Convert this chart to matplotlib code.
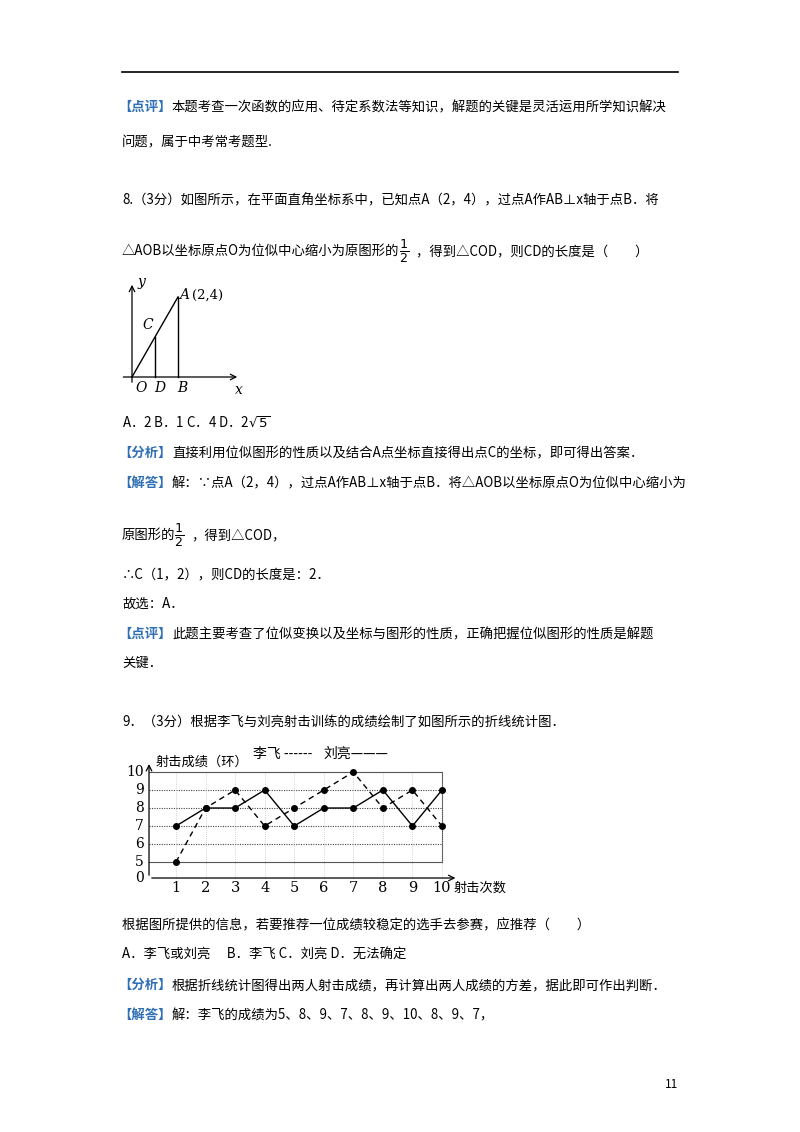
import matplotlib
matplotlib.use("Agg")
import matplotlib.pyplot as plt

plt.rcParams['font.family'] = ['Noto Sans CJK SC', 'DejaVu Sans']

# data
shots = [1, 2, 3, 4, 5, 6, 7, 8, 9, 10]
lifei = [5, 8, 9, 7, 8, 9, 10, 8, 9, 7]
liuliang = [7, 8, 8, 9, 7, 8, 8, 9, 7, 9]
y_ticks = [5, 6, 7, 8, 9, 10]

W, H = 800, 1132
BLUE = "#2f6fb5"
FS = 9.6

fig = plt.figure(figsize=(8, 11.32), dpi=100)

def T(x, y, s, color="black", fs=FS, **kw):
    fig.text(x / W, 1 - y / H, s, color=color, fontsize=fs, va="center", ha="left", **kw)

def tagline(y, tag, rest):
    T(118, y, tag, color=BLUE, fontweight="bold")
    T(172, y, rest)

def pax(l, t, r, b):
    return fig.add_axes([l / W, 1 - b / H, (r - l) / W, (b - t) / H])

# header rule
line_ax = pax(0, 0, W, H)
line_ax.set_xlim(0, W); line_ax.set_ylim(H, 0); line_ax.axis("off")
line_ax.plot([122, 678], [72, 72], color="black", lw=1.2)

tagline(107, "【点评】", "本题考查一次函数的应用、待定系数法等知识，解题的关键是灵活运用所学知识解决")
T(122, 142, "问题，属于中考常考题型.")
T(122, 200, "8.（3分）如图所示，在平面直角坐标系中，已知点A（2，4），过点A作AB⊥x轴于点B．将")
T(122, 251, "△AOB以坐标原点O为位似中心缩小为原图形的")
T(399, 251, r"$\frac{1}{2}$", fs=13)
T(416, 251, "，得到△COD，则CD的长度是（　　）")
T(122, 423, "A．2 B．1 C．4 D．2$\\sqrt{5}$")
tagline(453, "【分析】", "直接利用位似图形的性质以及结合A点坐标直接得出点C的坐标，即可得出答案．")
tagline(483, "【解答】", "解：∵点A（2，4），过点A作AB⊥x轴于点B．将△AOB以坐标原点O为位似中心缩小为")
T(122, 535, "原图形的")
T(174, 535, r"$\frac{1}{2}$", fs=13)
T(191, 535, "，得到△COD，")
T(122, 574, "∴C（1，2），则CD的长度是：2．")
T(122, 604, "故选：A．")
tagline(634, "【点评】", "此题主要考查了位似变换以及坐标与图形的性质，正确把握位似图形的性质是解题")
T(122, 663, "关键．")
T(122, 722, "9．（3分）根据李飞与刘亮射击训练的成绩绘制了如图所示的折线统计图．")
T(122, 925, "根据图所提供的信息，若要推荐一位成绩较稳定的选手去参赛，应推荐（　　）")
T(122, 955, "A．李飞或刘亮　 B．李飞 C．刘亮 D．无法确定")
tagline(985, "【分析】", "根据折线统计图得出两人射击成绩，再计算出两人成绩的方差，据此即可作出判断．")
tagline(1015, "【解答】", "解：李飞的成绩为5、8、9、7、8、9、10、8、9、7，")
T(665, 1085, "11", fs=8.5)

# triangle figure
ax1 = pax(110, 270, 260, 400)
ax1.set_xlim(-0.957, 5.57); ax1.set_ylim(-1.15, 5.35); ax1.axis("off")
ax1.annotate("", xy=(4.7, 0), xytext=(-0.5, 0), arrowprops=dict(arrowstyle="->", lw=0.9))
ax1.annotate("", xy=(0, 4.75), xytext=(0, -0.4), arrowprops=dict(arrowstyle="->", lw=0.9))
ax1.plot([0, 2], [0, 4], color="black", lw=1)
ax1.plot([2, 2], [0, 4], color="black", lw=1)
ax1.plot([1, 1], [0, 2], color="black", lw=1)
sty = dict(family="DejaVu Serif", style="italic", fontsize=10)
ax1.text(0.15, -0.75, "O", **sty); ax1.text(0.95, -0.75, "D", **sty); ax1.text(1.95, -0.75, "B", **sty)
ax1.text(0.45, 2.4, "C", **sty); ax1.text(2.05, 3.9, "A", **sty)
ax1.text(2.6, 3.9, "(2,4)", family="DejaVu Serif", fontsize=9.5)
ax1.text(0.25, 4.55, "y", **sty); ax1.text(4.5, -0.85, "x", **sty)

# line chart
ax2 = pax(110, 740, 460, 890)
ax2.set_xlim(-1.233, 10.61); ax2.set_ylim(3.444, 11.78); ax2.axis("off")
x0, yax = 0.087, 4.11
ax2.plot([x0, 10, 10, x0], [10, 10, 5, 5], color="#555", lw=0.8)
for yv in y_ticks[1:-1]:
    ax2.plot([x0, 10], [yv, yv], color="#444", lw=0.8, ls=(0, (1, 1.2)))
for xv in shots:
    ax2.plot([xv, xv], [yax, 10], color="#aaa", lw=0.5, ls=(0, (1, 2)))
ax2.annotate("", xy=(10.55, yax), xytext=(x0, yax), arrowprops=dict(arrowstyle="->", lw=0.9))
ax2.annotate("", xy=(x0, 10.6), xytext=(x0, yax), arrowprops=dict(arrowstyle="->", lw=0.9))
ax2.plot(shots, lifei, color="black", lw=1, ls=(0, (4, 3)), marker="o", ms=4)
ax2.plot(shots, liuliang, color="black", lw=1, marker="o", ms=4)
for yv in y_ticks:
    ax2.text(-0.1, yv, str(yv), ha="right", va="center", family="DejaVu Serif", fontsize=10)
ax2.text(-0.1, yax, "0", ha="right", va="center", family="DejaVu Serif", fontsize=10)
for xv in shots:
    ax2.text(xv, 3.55, str(xv), ha="center", va="center", family="DejaVu Serif", fontsize=10.5)
ax2.text(10.4, 3.55, "射击次数", ha="left", va="center", fontsize=9.5)
ax2.text(0.3, 10.55, "射击成绩（环）", ha="left", va="center", fontsize=9.5)
ax2.text(3.6, 11.0, "李飞 ------", ha="left", va="center", fontsize=10)
ax2.text(6.0, 11.0, "刘亮———", ha="left", va="center", fontsize=10)

fig.savefig("out.png", dpi=100)
